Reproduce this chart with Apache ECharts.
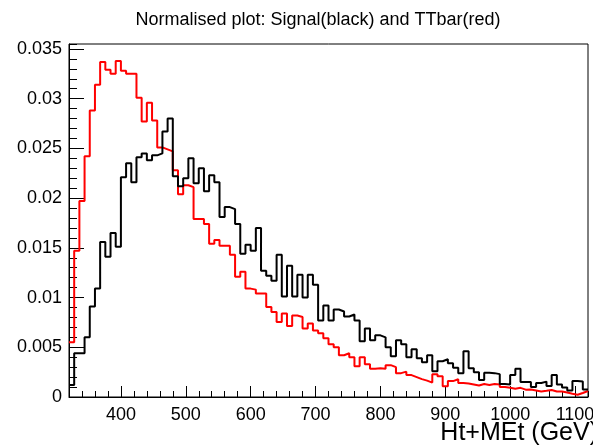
<!DOCTYPE html>
<html>
<head>
<meta charset="utf-8">
<script src="https://cdn.jsdelivr.net/npm/echarts@6/dist/echarts.min.js"></script>
<style>
html,body{margin:0;padding:0;background:#fff;}
#c{width:593px;height:448px;}
</style>
</head>
<body>
<div id="c"></div>
<script>
// Histogram binning (GeV)
const histLow = 320;
const histHigh = 1120;
const binWidth = 8;

// Signal (black), normalised, one value per bin
const signal = [
0.0012,0.0044,0.0044,0.0060,0.0091,0.0109,0.0156,0.0141,0.0165,0.0151,
0.0221,0.0235,0.0216,0.0241,0.0245,0.0238,0.0243,0.0245,0.0267,0.0280,
0.0222,0.0212,0.0220,0.0240,0.0215,0.0230,0.0207,0.0223,0.0216,0.0181,
0.0191,0.0189,0.0174,0.0144,0.0153,0.0147,0.0170,0.0127,0.0122,0.0117,
0.0143,0.0101,0.0132,0.0101,0.0123,0.0100,0.0123,0.0113,0.0077,0.0092,
0.0077,0.0088,0.0086,0.0081,0.0083,0.0077,0.0056,0.0069,0.0057,0.0062,
0.0060,0.0050,0.0041,0.0057,0.0053,0.0040,0.0048,0.0039,0.0035,0.0042,
0.0026,0.0036,0.0038,0.0034,0.00295,0.0024,0.0046,0.0029,0.0025,0.0017,
0.00245,0.0024,0.0023,0.0013,0.00125,0.0022,0.00285,0.0015,0.0015,0.0010,
0.0014,0.00155,0.0011,0.0022,0.00125,0.00095,0.00065,0.0016,0.00155,0.00075
];

// TTbar (red), normalised, one value per bin
const ttbar = [
0.0055,0.0147,0.0197,0.0242,0.0288,0.0314,0.0337,0.0329,0.0325,0.0338,
0.0328,0.0325,0.0325,0.0301,0.0277,0.0296,0.0278,0.0251,0.0249,0.0247,
0.0228,0.0204,0.0213,0.0211,0.0179,0.0179,0.0174,0.0154,0.0158,0.0152,
0.0152,0.0143,0.0121,0.0126,0.0109,0.0108,0.0104,0.0104,0.00905,0.00855,
0.00755,0.0084,0.00715,0.0082,0.00805,0.0069,0.0074,0.0067,0.0064,0.0059,
0.0053,0.0050,0.0042,0.0044,0.0040,0.0031,0.0040,0.0033,0.00285,0.0029,
0.00285,0.0032,0.0030,0.0024,0.00255,0.0022,0.0020,0.0018,0.00165,0.00145,
0.0023,0.00208,0.00108,0.0016,0.00178,0.0014,0.00135,0.00125,0.00115,0.0013,
0.0012,0.0013,0.00125,0.0010,0.00094,0.00084,0.00092,0.00074,0.00075,0.00065,
0.00055,0.00062,0.0007,0.00055,0.00055,0.00045,0.00032,0.00022,0.0004,0.0006
];

const xTickLabels = ['400','500','600','700','800','900','1000','1100'];
const yTickLabels = ['0','0.005','0.01','0.015','0.02','0.025','0.03','0.035'];
const yMax = 0.0355;

const titleText = 'Normalised plot: Signal(black) and TTbar(red)';
const xTitle = 'Ht+MEt (GeV)';

function toSteps(vals){
  const pts = vals.map((v,i)=>[histLow + i*binWidth, v]);
  pts.push([histLow + vals.length*binWidth, vals[vals.length-1]]);
  return pts;
}

const FONT = 'Liberation Sans, Arial, Helvetica, sans-serif';
const chart = echarts.init(document.getElementById('c'), null, {renderer:'canvas'});

const xLabelFmt = v => { const s = String(Math.round(v)); return xTickLabels.indexOf(s) >= 0 ? s : ''; };
const yLabelFmt = v => { const s = String(parseFloat(v.toFixed(4))); return yTickLabels.indexOf(s) >= 0 ? s : ''; };

chart.setOption({
  animation: false,
  backgroundColor: '#fff',
  title: [
    {
      text: titleText, left: 313, top: 6, textAlign: 'center',
      textStyle: {fontFamily: FONT, fontSize: 18, fontWeight: 'normal', color: '#000'}
    },
    {
      text: xTitle, right: -5, top: 421, padding: 0,
      textStyle: {fontFamily: FONT, fontSize: 25, fontWeight: 'normal', color: '#000'}
    }
  ],
  grid: {left: 69, right: 5, top: 44, bottom: 51, show: true, borderColor: '#000', borderWidth: 1,
    containLabel: false, outerBoundsMode: 'none'},
  xAxis: [
    {
      type: 'value', min: histLow, max: histHigh, splitNumber: 8,
      axisLine: {show: true, lineStyle: {color: '#000', width: 1}},
      axisTick: {show: true, inside: true, length: 11, lineStyle: {color: '#000'}},
      minorTick: {show: false},
      splitLine: {show: false},
      axisLabel: {show: true, formatter: xLabelFmt, showMinLabel: false, showMaxLabel: false, margin: 9,
        fontFamily: FONT, fontSize: 18, color: '#000'}
    },
    {
      type: 'value', min: histLow, max: histHigh, interval: 20, position: 'bottom',
      axisLine: {show: false},
      axisTick: {show: true, inside: true, length: 6, lineStyle: {color: '#000'}},
      axisLabel: {show: false}, splitLine: {show: false}
    }
  ],
  yAxis: [
    {
      type: 'value', min: 0, max: yMax, interval: 0.005,
      axisLine: {show: true, lineStyle: {color: '#000', width: 1}},
      axisTick: {show: true, inside: true, length: 15, lineStyle: {color: '#000'}},
      splitLine: {show: false},
      axisLabel: {formatter: yLabelFmt, showMaxLabel: false, margin: 7, fontFamily: FONT, fontSize: 18, color: '#000'}
    },
    {
      type: 'value', min: 0, max: yMax, interval: 0.001, position: 'left',
      axisLine: {show: false},
      axisTick: {show: true, inside: true, length: 8, lineStyle: {color: '#000'}},
      axisLabel: {show: false}, splitLine: {show: false}
    }
  ],
  series: [
    {
      name: 'TTbar', type: 'line', step: 'end', data: toSteps(ttbar), showSymbol: false,
      xAxisIndex: 0, yAxisIndex: 0,
      lineStyle: {color: '#ff0000', width: 2}, itemStyle: {color: '#ff0000'}
    },
    {
      name: 'Signal', type: 'line', step: 'end', data: toSteps(signal), showSymbol: false,
      xAxisIndex: 0, yAxisIndex: 0,
      lineStyle: {color: '#000000', width: 2}, itemStyle: {color: '#000000'}
    }
  ]
});
</script>
</body>
</html>
